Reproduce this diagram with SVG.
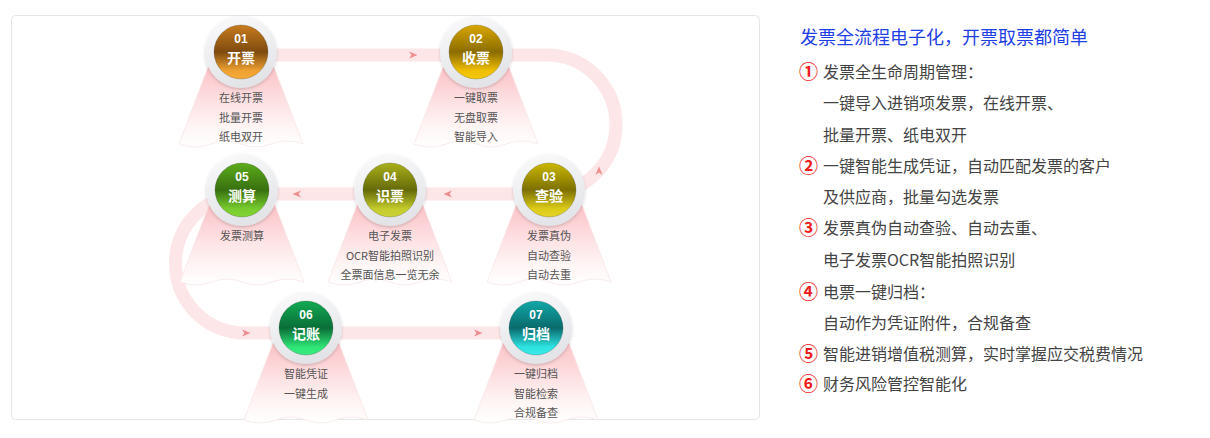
<svg xmlns="http://www.w3.org/2000/svg" width="1210" height="438" viewBox="0 0 1210 438">
<style>
.num{font-family:"Liberation Sans","DejaVu Sans",sans-serif;font-size:12px;font-weight:bold;fill:#fff;text-anchor:middle}
.ttl{font-family:"Noto Sans CJK SC","Noto Sans",sans-serif;font-size:14px;font-weight:bold;fill:#fff;text-anchor:middle}
.cap{font-family:"Noto Sans CJK SC","Noto Sans",sans-serif;font-size:11px;fill:#555;text-anchor:middle}
.head{font-family:"Noto Sans CJK SC","Noto Sans",sans-serif;font-size:18px;fill:#1f3fe6}
.li{font-family:"Noto Sans CJK SC","Noto Sans",sans-serif;font-size:16px;fill:#444}
.no{font-family:"Noto Sans CJK SC","DejaVu Sans",sans-serif;font-size:19px;font-weight:bold;fill:#ee1c1c}
.band{fill:none;stroke:#fde6e7;stroke-width:13}
.arr{fill:#f08c8c}
.ring{fill:url(#ringG);filter:url(#sh)}
.inner{stroke:rgba(0,0,0,0.18);stroke-width:1}
</style>
<defs>
<linearGradient id="coneG" x1="0" y1="0" x2="0" y2="1">
<stop offset="0" stop-color="#fbc2c6"/>
<stop offset="0.45" stop-color="#fde2e4"/>
<stop offset="0.75" stop-color="#fff5f5"/>
<stop offset="1" stop-color="#ffffff"/>
</linearGradient>
<linearGradient id="ringG" x1="0" y1="0" x2="0.3" y2="1">
<stop offset="0" stop-color="#fbfbfc"/>
<stop offset="1" stop-color="#e2e4e7"/>
</linearGradient>
<filter id="sh" x="-30%" y="-30%" width="160%" height="160%">
<feDropShadow dx="0" dy="1.5" stdDeviation="1.5" flood-color="#000" flood-opacity="0.18"/>
</filter>
<path id="cone" d="M-33,15 L33,15 L62,92 Q46,86 30,92 Q15,98 0,92 Q-15,86 -30,92 Q-46,98 -62,92 Z" fill="url(#coneG)" stroke="#f7e6e6" stroke-width="0.8"/>
<path id="arrow" class="arr" d="M-4,-3.5 L4.5,0 L-4,3.5 L-1.5,0 Z"/>
<linearGradient id="g01" x1="0" y1="0" x2="0" y2="1"><stop offset="0" stop-color="#c87c1e"/><stop offset="0.5" stop-color="#7e4a0e"/><stop offset="0.85" stop-color="#f0a232"/><stop offset="1" stop-color="#f4aa3a"/></linearGradient>
<linearGradient id="g02" x1="0" y1="0" x2="0" y2="1"><stop offset="0" stop-color="#d8a800"/><stop offset="0.5" stop-color="#8c6c00"/><stop offset="0.85" stop-color="#f0c000"/><stop offset="1" stop-color="#f4c810"/></linearGradient>
<linearGradient id="g03" x1="0" y1="0" x2="0" y2="1"><stop offset="0" stop-color="#ccb800"/><stop offset="0.5" stop-color="#7c7000"/><stop offset="0.85" stop-color="#dccc18"/><stop offset="1" stop-color="#e4d428"/></linearGradient>
<linearGradient id="g04" x1="0" y1="0" x2="0" y2="1"><stop offset="0" stop-color="#aab01a"/><stop offset="0.5" stop-color="#646a08"/><stop offset="0.85" stop-color="#c4cc2c"/><stop offset="1" stop-color="#ccd238"/></linearGradient>
<linearGradient id="g05" x1="0" y1="0" x2="0" y2="1"><stop offset="0" stop-color="#5cac1a"/><stop offset="0.5" stop-color="#387010"/><stop offset="0.85" stop-color="#78cc2e"/><stop offset="1" stop-color="#84d438"/></linearGradient>
<linearGradient id="g06" x1="0" y1="0" x2="0" y2="1"><stop offset="0" stop-color="#12aa52"/><stop offset="0.5" stop-color="#0a6e38"/><stop offset="0.85" stop-color="#2ee476"/><stop offset="1" stop-color="#3aec80"/></linearGradient>
<linearGradient id="g07" x1="0" y1="0" x2="0" y2="1"><stop offset="0" stop-color="#12a8a8"/><stop offset="0.5" stop-color="#0a6a6c"/><stop offset="0.85" stop-color="#2ee2e2"/><stop offset="1" stop-color="#3aeaea"/></linearGradient>
</defs>
<rect width="1210" height="438" fill="#fff"/>
<rect x="11.5" y="15.5" width="748" height="404" rx="4" fill="#fff" stroke="#e6e6e6"/>

<g id="connectors">
<path class="band" d="M241,55 H546.5 A69.5,69.5 0 0 1 546.5,194 H245 A69.5,69.5 0 0 0 245,333 H536"/>
<use href="#arrow" transform="translate(413,55)"/>
<use href="#arrow" transform="translate(599,171) rotate(-90)"/>
<use href="#arrow" transform="translate(448,194) rotate(180)"/>
<use href="#arrow" transform="translate(297,194) rotate(180)"/>
<use href="#arrow" transform="translate(246,333)"/>
<use href="#arrow" transform="translate(478,333)"/>
</g>

<g id="node-01" transform="translate(241,52)">
<use href="#cone"/>
<circle class="ring" r="36"/>
<circle class="inner" r="27" fill="url(#g01)"/>
<text class="num" y="-9">01</text>
<text class="ttl" y="11">开票</text>
<text class="cap" y="50">在线开票</text>
<text class="cap" y="69.5">批量开票</text>
<text class="cap" y="89">纸电双开</text>
</g>

<g id="node-02" transform="translate(476,52)">
<use href="#cone"/>
<circle class="ring" r="36"/>
<circle class="inner" r="27" fill="url(#g02)"/>
<text class="num" y="-9">02</text>
<text class="ttl" y="11">收票</text>
<text class="cap" y="50">一键取票</text>
<text class="cap" y="69.5">无盘取票</text>
<text class="cap" y="89">智能导入</text>
</g>

<g id="node-03" transform="translate(549,190)">
<use href="#cone"/>
<circle class="ring" r="36"/>
<circle class="inner" r="27" fill="url(#g03)"/>
<text class="num" y="-9">03</text>
<text class="ttl" y="11">查验</text>
<text class="cap" y="50">发票真伪</text>
<text class="cap" y="69.5">自动查验</text>
<text class="cap" y="89">自动去重</text>
</g>

<g id="node-04" transform="translate(390,190)">
<use href="#cone"/>
<circle class="ring" r="36"/>
<circle class="inner" r="27" fill="url(#g04)"/>
<text class="num" y="-9">04</text>
<text class="ttl" y="11">识票</text>
<text class="cap" y="50">电子发票</text>
<text class="cap" y="69.5">OCR智能拍照识别</text>
<text class="cap" y="89">全票面信息一览无余</text>
</g>

<g id="node-05" transform="translate(242,190)">
<use href="#cone"/>
<circle class="ring" r="36"/>
<circle class="inner" r="27" fill="url(#g05)"/>
<text class="num" y="-9">05</text>
<text class="ttl" y="11">测算</text>
<text class="cap" y="50">发票测算</text>
</g>

<g id="node-06" transform="translate(306,328)">
<use href="#cone"/>
<circle class="ring" r="36"/>
<circle class="inner" r="27" fill="url(#g06)"/>
<text class="num" y="-9">06</text>
<text class="ttl" y="11">记账</text>
<text class="cap" y="50">智能凭证</text>
<text class="cap" y="69.5">一键生成</text>
</g>

<g id="node-07" transform="translate(536,328)">
<use href="#cone"/>
<circle class="ring" r="36"/>
<circle class="inner" r="27" fill="url(#g07)"/>
<text class="num" y="-9">07</text>
<text class="ttl" y="11">归档</text>
<text class="cap" y="50">一键归档</text>
<text class="cap" y="69.5">智能检索</text>
<text class="cap" y="89">合规备查</text>
</g>

<g id="summary">
<text class="head" x="800" y="44">发票全流程电子化，开票取票都简单</text>
<text class="no" x="799" y="79">①</text>
<text class="li" x="823" y="78">发票全生命周期管理：</text>
<text class="li" x="823" y="109">一键导入进销项发票，在线开票、</text>
<text class="li" x="823" y="141">批量开票、纸电双开</text>
<text class="no" x="799" y="173">②</text>
<text class="li" x="823" y="172">一键智能生成凭证，自动匹配发票的客户</text>
<text class="li" x="823" y="203">及供应商，批量勾选发票</text>
<text class="no" x="799" y="235">③</text>
<text class="li" x="823" y="234">发票真伪自动查验、自动去重、</text>
<text class="li" x="823" y="266">电子发票OCR智能拍照识别</text>
<text class="no" x="799" y="299">④</text>
<text class="li" x="823" y="298">电票一键归档：</text>
<text class="li" x="823" y="329">自动作为凭证附件，合规备查</text>
<text class="no" x="799" y="361">⑤</text>
<text class="li" x="823" y="360">智能进销增值税测算，实时掌握应交税费情况</text>
<text class="no" x="799" y="391">⑥</text>
<text class="li" x="823" y="390">财务风险管控智能化</text>
</g>
</svg>
